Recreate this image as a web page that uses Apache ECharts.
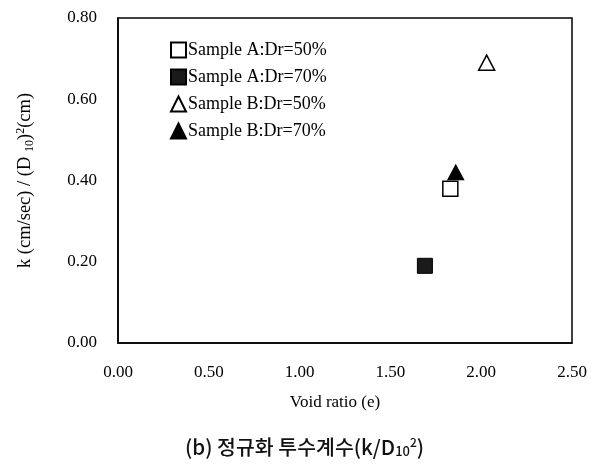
<!DOCTYPE html>
<html><head><meta charset="utf-8">
<script src="https://cdn.jsdelivr.net/npm/echarts@6/dist/echarts.min.js"></script>
<style>html,body{margin:0;padding:0;background:#fff}#c{width:593px;height:468px}</style>
</head><body><div id="c"></div>
<script>
const seriesNames = ['Sample A:Dr=50%', 'Sample A:Dr=70%', 'Sample B:Dr=50%', 'Sample B:Dr=70%'];
const sampleA50 = [[1.83, 0.38]];
const sampleA70 = [[1.69, 0.19]];
const sampleB50 = [[2.03, 0.69]];
const sampleB70 = [[1.86, 0.42]];
const xTicks = [0, 0.5, 1.0, 1.5, 2.0, 2.5];
const yTicks = [0, 0.2, 0.4, 0.6, 0.8];

const serif = 'Liberation Serif';
const chart = echarts.init(document.getElementById('c'));
chart.setOption({
  animation: false,
  backgroundColor: '#fff',
  title: {
    text: '(b) 정규화 투수계수(k/D{sub|10}{sup|2})',
    left: 185,
    top: 436,
    padding: 0,
    textStyle: {
      fontFamily: 'Noto Sans CJK KR', fontSize: 20.5, fontWeight: 500, color: '#111',
      rich: {
        sub: {fontFamily: 'Noto Sans CJK KR', fontSize: 13, fontWeight: 500, color: '#111', verticalAlign: 'bottom', padding: [8, 0, 0, 0]},
        sup: {fontFamily: 'Noto Sans CJK KR', fontSize: 12, fontWeight: 500, color: '#111', verticalAlign: 'top', padding: [0, 0, 10, 0]}
      }
    }
  },
  legend: {
    orient: 'vertical',
    left: 165,
    top: 35,
    itemWidth: 15,
    itemHeight: 15,
    itemGap: 7,
    data: seriesNames,
    textStyle: {fontFamily: serif, fontSize: 18, color: '#000', lineHeight: 20, padding: [0, 0, 0, -3]}
  },
  grid: {left: 118, right: 21, top: 18, bottom: 125, show: true, borderColor: '#000', borderWidth: 1.5},
  xAxis: {
    type: 'value', min: 0, max: 2.5, interval: 0.5,
    name: 'Void ratio (e)', nameLocation: 'middle', nameGap: 51,
    nameTextStyle: {fontFamily: serif, fontSize: 17, color: '#000', padding: [0, 20, 0, 0]},
    axisLine: {show: true, lineStyle: {color: '#000', width: 1.5}},
    axisTick: {show: false},
    splitLine: {show: false},
    axisLabel: {margin: 21, fontFamily: serif, fontSize: 17, color: '#000',
      formatter: v => xTicks.includes(+v.toFixed(2)) ? v.toFixed(2) : ''}
  },
  yAxis: {
    type: 'value', min: 0, max: 0.8, interval: 0.2,
    name: 'k (cm/sec) / (D {sub|10}){sup|2}(cm)', nameLocation: 'middle', nameGap: 82, nameRotate: 90,
    nameTextStyle: {fontFamily: serif, fontSize: 18.5, color: '#000',
      rich: {
        sub: {fontFamily: serif, fontSize: 12, color: '#000', verticalAlign: 'bottom', padding: [7, 0, 0, 0]},
        sup: {fontFamily: serif, fontSize: 12, color: '#000', verticalAlign: 'top', padding: [0, 0, 9, 0]}
      }},
    axisLine: {show: true, lineStyle: {color: '#000', width: 1.5}},
    axisTick: {show: false},
    splitLine: {show: false},
    axisLabel: {margin: 21, fontFamily: serif, fontSize: 17, color: '#000',
      formatter: v => yTicks.includes(+v.toFixed(2)) ? v.toFixed(2) : ''}
  },
  series: [
    {name: seriesNames[0], type: 'scatter', data: sampleA50, symbol: 'rect', symbolSize: 15, z: 3,
     itemStyle: {color: '#fff', borderColor: '#000', borderWidth: 1.5, opacity: 1}},
    {name: seriesNames[1], type: 'scatter', data: sampleA70, symbol: 'rect', symbolSize: 15,
     itemStyle: {color: '#1a1a1a', borderColor: '#000', borderWidth: 1, opacity: 1}},
    {name: seriesNames[2], type: 'scatter', data: sampleB50, symbol: 'triangle', symbolSize: [16, 15],
     itemStyle: {color: '#fff', borderColor: '#000', borderWidth: 1.5, opacity: 1}},
    {name: seriesNames[3], type: 'scatter', data: sampleB70, symbol: 'triangle', symbolSize: [16, 15], z: 4,
     itemStyle: {color: '#000', borderColor: '#000', borderWidth: 1, opacity: 1}}
  ]
});
</script></body></html>
